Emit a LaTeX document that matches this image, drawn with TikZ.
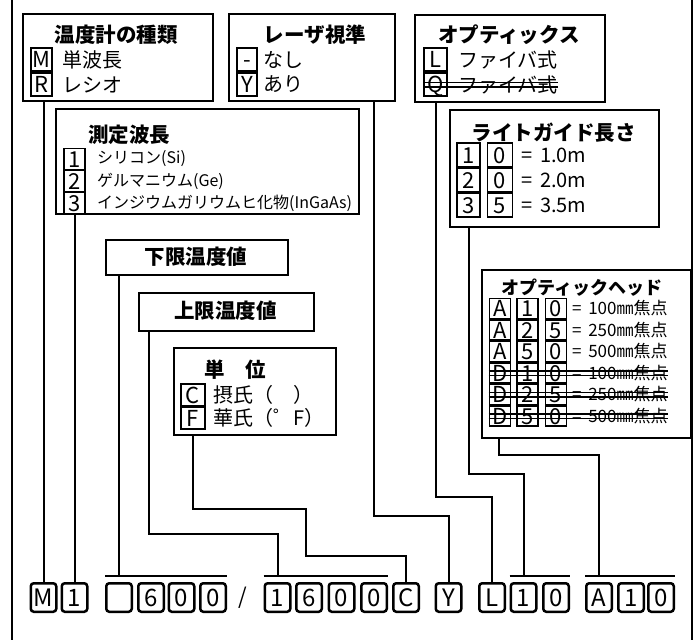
\documentclass[tikz,border=0pt]{standalone}
\usepackage{fontspec}
\setmainfont{Noto Sans CJK JP}
\usepackage{tikz}

\begin{document}
\begin{tikzpicture}[x=1pt,y=-1pt,
    frame/.style={draw,line width=2pt,anchor=north west,inner sep=0pt},
    code/.style={draw,line width=1.6pt,inner sep=0pt,minimum width=21pt,minimum height=22pt,text height=16pt,text depth=0pt,font=\fontsize{22}{23}\selectfont},
    ttl/.style={inner sep=0pt,font=\fontsize{20.5}{22}\selectfont\bfseries},
    txt/.style={anchor=west,inner sep=0pt,font=\fontsize{20}{22}\selectfont},
    small/.style={anchor=west,inner sep=0pt,font=\fontsize{16}{18}\selectfont},
    digit/.style={draw,line width=2.5pt,rounded corners=3pt,inner sep=0pt,minimum width=25.5pt,minimum height=28.5pt,text height=17.5pt,text depth=0pt,font=\fontsize{24}{25}\selectfont},
    wire/.style={line width=2pt},
    strike/.style={line width=1.4pt}]
    \useasboundingbox (0,0) rectangle (699,640);
    \draw [wire] (12,0) -- (12,640);
    \draw [wire] (692,0) -- (692,640);

    \node [frame,minimum width=190,minimum height=87] (kind) at (22,13) {};
    \node [ttl] (kindT) at (116,35) {温度計の種類};
    \node [code,minimum height=23] (kM) at (41.5,59.5) {M};
    \node [code,minimum height=23] (kR) at (41.5,84.5) {R};
    \node [txt] (kMt) at (62,59.5) {単波長};
    \node [txt] (kRt) at (62,84.5) {レシオ};

    \node [frame,minimum width=166,minimum height=87] (laser) at (228,13) {};
    \node [ttl] (laserT) at (315,35) {レーザ視準};
    \node [code,minimum width=20,minimum height=23] (lN) at (247,59.5) {-};
    \node [code,minimum width=20,minimum height=23] (lY) at (247,84.5) {Y};
    \node [txt] (lNt) at (263,59.5) {なし};
    \node [txt] (lYt) at (263,84.5) {あり};

    \node [frame,minimum width=190,minimum height=87] (optics) at (414,14) {};
    \node [ttl] (opticsT) at (509,35) {オプティックス};
    \node [code,minimum width=23,minimum height=23] (oL) at (435.5,59.5) {L};
    \node [code,minimum width=23,minimum height=23] (oQ) at (435.5,84.5) {Q};
    \node [txt] (oLt) at (458,59.5) {ファイバ式};
    \node [txt] (oQt) at (458,84.5) {ファイバ式};
    \draw [strike] ([yshift=2pt]oQ.west) -- ([yshift=2pt]oQt.east);
    \draw [strike] ([yshift=-2.5pt]oQ.west) -- ([yshift=-2.5pt]oQt.east);

    \node [frame,minimum width=303,minimum height=105] (wave) at (55,108) {};
    \node [ttl,anchor=west] (waveT) at (88,135) {測定波長};
    \node [code,minimum height=21] (w1) at (74.5,159) {1};
    \node [code,minimum height=21] (w2) at (74.5,181) {2};
    \node [code,minimum height=21] (w3) at (74.5,203) {3};
    \node [small] (w1t) at (97,159) {シリコン(Si)};
    \node [small] (w2t) at (97,181) {ゲルマニウム(Ge)};
    \node [small] (w3t) at (97,203) {インジウムガリウムヒ化物(InGaAs)};

    \node [frame,minimum width=209,minimum height=117] (guide) at (449,109) {};
    \node [ttl] (guideT) at (553.5,133) {ライトガイド長さ};
    \node [code,minimum width=23,minimum height=24] (g1a) at (468.5,155) {1};
    \node [code,minimum width=25,minimum height=24] (g1b) at (500,155) {0};
    \node [code,minimum width=23,minimum height=24] (g2a) at (468.5,180) {2};
    \node [code,minimum width=25,minimum height=24] (g2b) at (500,180) {0};
    \node [code,minimum width=23,minimum height=24] (g3a) at (468.5,205) {3};
    \node [code,minimum width=25,minimum height=24] (g3b) at (500,205) {5};
    \node [txt] (g1t) at (521,155) {=\,\ 1.0m};
    \node [txt] (g2t) at (521,180) {=\,\ 2.0m};
    \node [txt] (g3t) at (521,205) {=\,\ 3.5m};

    \node [frame,minimum width=182,minimum height=35] (lower) at (105,239) {};
    \node [ttl] (lowerT) at (196,256.5) {下限温度値};
    \node [frame,minimum width=175,minimum height=38] (upper) at (138,292) {};
    \node [ttl] (upperT) at (225.5,311) {上限温度値};

    \node [frame,minimum width=162,minimum height=87] (unit) at (173,347) {};
    \node [ttl] (unitT) at (235,370) {単　位};
    \node [code,minimum width=24] (uC) at (193,395) {C};
    \node [code,minimum width=24] (uF) at (193,418) {F};
    \node [txt] (uCt) at (213,395) {摂氏（　）};
    \node [txt] (uFt) at (213,418) {華氏（゜F）};

    \node [frame,minimum width=209,minimum height=168] (head) at (481,269) {};
    \node [ttl,font=\fontsize{18}{20}\selectfont\bfseries] (headT) at (582,288) {オプティックヘッド};
    \node [code,minimum height=20] (h1a) at (500,308.5) {A};
    \node [code,minimum height=20] (h1b) at (527.5,308.5) {1};
    \node [code,minimum height=20] (h1c) at (556,308.5) {0};
    \node [small,font=\fontsize{17}{18}\selectfont] (h1t) at (572,308.5) {=\,\ 100㎜焦点};
    \node [code,minimum height=20] (h2a) at (500,330) {A};
    \node [code,minimum height=20] (h2b) at (527.5,330) {2};
    \node [code,minimum height=20] (h2c) at (556,330) {5};
    \node [small,font=\fontsize{17}{18}\selectfont] (h2t) at (572,330) {=\,\ 250㎜焦点};
    \node [code,minimum height=20] (h3a) at (500,351.5) {A};
    \node [code,minimum height=20] (h3b) at (527.5,351.5) {5};
    \node [code,minimum height=20] (h3c) at (556,351.5) {0};
    \node [small,font=\fontsize{17}{18}\selectfont] (h3t) at (572,351.5) {=\,\ 500㎜焦点};
    \node [code,minimum height=20] (h4a) at (500,373) {D};
    \node [code,minimum height=20] (h4b) at (527.5,373) {1};
    \node [code,minimum height=20] (h4c) at (556,373) {0};
    \node [small,font=\fontsize{17}{18}\selectfont] (h4t) at (572,373) {=\,\ 100㎜焦点};
    \node [code,minimum height=20] (h5a) at (500,394.5) {D};
    \node [code,minimum height=20] (h5b) at (527.5,394.5) {2};
    \node [code,minimum height=20] (h5c) at (556,394.5) {5};
    \node [small,font=\fontsize{17}{18}\selectfont] (h5t) at (572,394.5) {=\,\ 250㎜焦点};
    \node [code,minimum height=20] (h6a) at (500,416) {D};
    \node [code,minimum height=20] (h6b) at (527.5,416) {5};
    \node [code,minimum height=20] (h6c) at (556,416) {0};
    \node [small,font=\fontsize{17}{18}\selectfont] (h6t) at (572,416) {=\,\ 500㎜焦点};
    \draw [strike] ([yshift=2pt]h4a.west) -- ([yshift=2pt]h4t.east);
    \draw [strike] ([yshift=-2.5pt]h4a.west) -- ([yshift=-2.5pt]h4t.east);
    \draw [strike] ([yshift=2pt]h5a.west) -- ([yshift=2pt]h5t.east);
    \draw [strike] ([yshift=-2.5pt]h5a.west) -- ([yshift=-2.5pt]h5t.east);
    \draw [strike] ([yshift=2pt]h6a.west) -- ([yshift=2pt]h6t.east);
    \draw [strike] ([yshift=-2.5pt]h6a.west) -- ([yshift=-2.5pt]h6t.east);

    \node [digit] (bM) at (43.5,597.5) {M};
    \node [digit] (b1) at (74.5,597.5) {1};
    \node [digit] (bS) at (119,597.5) {};
    \node [digit] (b6) at (151,597.5) {6};
    \node [digit] (b0) at (181.5,597.5) {0};
    \node [digit] (b00) at (213,597.5) {0};
    \node [font=\fontsize{22}{24}\selectfont] (slash) at (243,597.5) {/};
    \node [digit] (c1) at (277.5,597.5) {1};
    \node [digit] (c6) at (309,597.5) {6};
    \node [digit] (c0) at (341.5,597.5) {0};
    \node [digit] (c00) at (374,597.5) {0};
    \node [digit] (bC) at (406,597.5) {C};
    \node [digit] (bY) at (448.5,597.5) {Y};
    \node [digit] (bL) at (492,597.5) {L};
    \node [digit] (bL1) at (523.5,597.5) {1};
    \node [digit] (bL0) at (556,597.5) {0};
    \node [digit] (bA) at (599,597.5) {A};
    \node [digit] (bA1) at (631,597.5) {1};
    \node [digit] (bA0) at (661,597.5) {0};

    \draw [wire] ([yshift=6pt]bS.north west) -- ([yshift=6pt]b00.north east);
    \draw [wire] ([yshift=6pt]c1.north west) -- ([yshift=6pt]c00.north east);
    \draw [wire] ([yshift=6pt]bL1.north west) -- ([yshift=6pt]bL0.north east);
    \draw [wire] ([yshift=6pt]bA.north west) -- ([yshift=6pt]bA0.north east);

    \coordinate (upA) at (149,534);
    \coordinate (unA) at (306,509);
    \coordinate (unB) at (306,556);
    \coordinate (lsA) at (374,516);
    \coordinate (opA) at (436,497);
    \coordinate (gdA) at (468.5,474);
    \coordinate (hdA) at (499,455);
    \draw [wire] (kind.south -| bM) -- (bM.north);
    \draw [wire] (wave.south -| b1) -- (b1.north);
    \draw [wire] (lower.south -| bS) -- ([yshift=6pt]bS.north);
    \draw [wire] (upper.south -| upA) -- (upA) -| ([yshift=6pt]c1.north);
    \draw [wire] (unit.south -| uF) |- (unA) -- (unB) -| (bC.north);
    \draw [wire] (laser.south -| lsA) -- (lsA) -| (bY.north);
    \draw [wire] (optics.south -| opA) -- (opA) -| (bL.north);
    \draw [wire] (guide.south -| gdA) -- (gdA) -| ([yshift=6pt]bL1.north);
    \draw [wire] (head.south -| hdA) -- (hdA) -| ([yshift=6pt]bA.north);
  \end{tikzpicture}
\end{document}
